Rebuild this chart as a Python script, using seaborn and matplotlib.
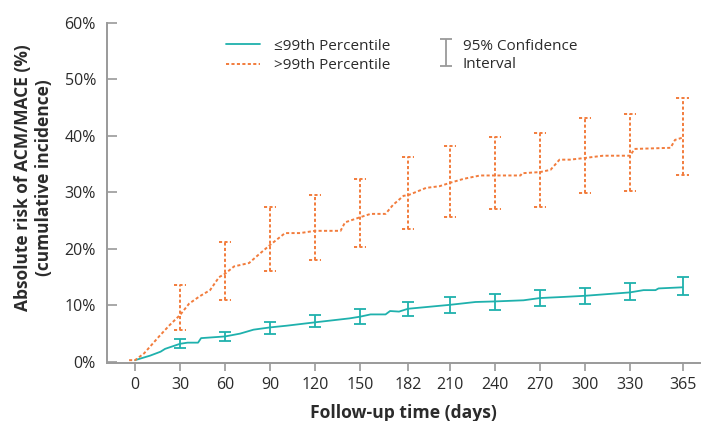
import numpy as np
import pandas as pd
import seaborn as sns
import matplotlib
matplotlib.use("Agg")
import matplotlib.pyplot as plt
from matplotlib.lines import Line2D
from matplotlib.container import ErrorbarContainer
from matplotlib.legend_handler import HandlerErrorbar

# ---- data ----
low_days = [0, 10, 17, 20, 30, 35, 42, 44, 60, 70, 79, 90, 101, 120, 143, 150, 157, 167, 170, 176, 182,
            210, 227, 240, 259, 270, 286, 300, 330, 339, 347, 349, 365]
low_vals = [0.3, 1.1, 1.8, 2.3, 3.2, 3.4, 3.4, 4.2, 4.5, 5.0, 5.7, 6.1, 6.4, 7.0, 7.7, 8.0, 8.4, 8.4, 9.0, 8.9, 9.4,
            10.1, 10.6, 10.7, 10.9, 11.3, 11.5, 11.7, 12.3, 12.7, 12.7, 13.0, 13.2]

high_days = [-4, 0, 6, 16, 23, 30, 36, 43, 50, 56, 60, 66, 76, 82, 90, 100, 110, 120, 137, 140, 150, 157, 167,
             172, 179, 182, 194, 203, 210, 219, 230, 240, 257, 258, 270, 277, 283, 290, 300, 312, 330, 333,
             357, 360, 365]
high_vals = [0.3, 0.3, 1.5, 4.5, 6.5, 8.3, 10.3, 11.6, 12.7, 15.0, 15.6, 16.9, 17.5, 18.9, 20.7, 22.8, 22.8, 23.2,
             23.2, 24.7, 25.6, 26.2, 26.2, 27.8, 29.4, 29.5, 30.8, 31.1, 31.7, 32.4, 33.0, 33.0, 33.0, 33.4, 33.6,
             34.0, 35.8, 35.8, 36.1, 36.5, 36.5, 37.7, 37.9, 39.3, 39.7]

ci_days = [30, 60, 90, 120, 150, 182, 210, 240, 270, 300, 330, 365]
low_mid = [3.2, 4.5, 6.1, 7.0, 8.0, 9.4, 10.1, 10.7, 11.3, 11.7, 12.3, 13.2]
low_lo = [2.4, 3.7, 5.0, 6.1, 6.7, 8.2, 8.7, 9.2, 9.9, 10.3, 11.0, 11.9]
low_hi = [4.0, 5.2, 7.1, 8.3, 9.3, 10.6, 11.4, 12.0, 12.7, 13.0, 13.9, 15.0]
high_mid = [8.3, 15.6, 20.7, 23.2, 25.6, 29.5, 31.7, 33.0, 33.6, 36.1, 36.5, 39.7]
high_lo = [5.6, 11.0, 16.0, 18.0, 20.4, 23.6, 25.6, 27.0, 27.5, 29.9, 30.2, 33.1]
high_hi = [13.6, 21.2, 27.5, 29.6, 32.4, 36.2, 38.2, 39.9, 40.6, 43.2, 43.9, 46.8]

x_ticks = [0, 30, 60, 90, 120, 150, 182, 210, 240, 270, 300, 330, 365]
y_ticks = [0, 10, 20, 30, 40, 50, 60]

TEAL = "#1fb1ad"
ORANGE = "#f27c3c"
GRAY = "#9a9a9a"
TXT = "#2b2b2b"
DOT = (0, (1.6, 1.2))
CAP_HALF = 4.2  # days, half width of the dotted caps

sns.set_theme(style="white")
plt.rcParams["font.family"] = ["Open Sans", "DejaVu Sans"]

fig = plt.figure(figsize=(7.06, 4.21), dpi=100)
ax = fig.add_axes([0.1516, 0.1378, 0.84, 0.8076])

df_low = pd.DataFrame({"day": low_days, "risk": low_vals})
df_high = pd.DataFrame({"day": high_days, "risk": high_vals})
sns.lineplot(data=df_low, x="day", y="risk", ax=ax, color=TEAL, lw=1.3, estimator=None)
sns.lineplot(data=df_high, x="day", y="risk", ax=ax, color=ORANGE, lw=1.4, estimator=None,
             linestyle=DOT)

ml = np.array(low_mid); mh = np.array(high_mid)
ax.errorbar(ci_days, ml, yerr=[ml - np.array(low_lo), np.array(low_hi) - ml], fmt="none",
            ecolor=TEAL, elinewidth=1.3, capsize=4.5, capthick=1.3)
eb2 = ax.errorbar(ci_days, mh, yerr=[mh - np.array(high_lo), np.array(high_hi) - mh], fmt="none",
                  ecolor=ORANGE, elinewidth=1.4, capsize=0)
for c in eb2.lines[2]:
    c.set_linestyle(DOT)
d = np.array(ci_days)
for v in (high_lo, high_hi):
    ax.hlines(v, d - CAP_HALF, d + CAP_HALF, color=ORANGE, lw=1.4, linestyle=DOT)

ax.set_xlim(-18.7, 376.7)
ax.set_ylim(-0.2, 60)
ax.set_xticks(x_ticks)
ax.set_yticks(y_ticks)
ax.set_yticklabels([f"{v}%" for v in y_ticks])
ax.tick_params(axis="x", direction="out", length=6, width=1.2, color=GRAY, labelsize=11.5,
               labelcolor=TXT, pad=4, bottom=True)
ax.tick_params(axis="y", direction="in", length=7, width=1.2, color=GRAY, labelsize=11.5,
               labelcolor=TXT, pad=8, left=True)
for s in ["top", "right"]:
    ax.spines[s].set_visible(False)
for s in ["left", "bottom"]:
    ax.spines[s].set_color(GRAY)
    ax.spines[s].set_linewidth(1.4)

ax.set_xlabel("Follow-up time (days)", fontsize=12.6, fontweight="bold", color=TXT, labelpad=8)
ax.set_ylabel("Absolute risk of ACM/MACE (%)\n(cumulative incidence)", fontsize=12.5,
              fontweight="bold", color=TXT, linespacing=1.25)
ax.yaxis.set_label_coords(-0.091, 0.545)

h1 = Line2D([], [], color=TEAL, lw=1.3)
h2 = Line2D([], [], color=ORANGE, lw=1.4, linestyle=DOT)
leg1 = ax.legend([h1, h2], ["≤99th Percentile", ">99th Percentile"], loc="upper left",
                 bbox_to_anchor=(0.178, 0.994), frameon=False, fontsize=11, handlelength=2.2,
                 labelspacing=0.3, handletextpad=0.9, labelcolor=TXT)
ax.add_artist(leg1)
ebh = ax.errorbar([np.nan], [np.nan], yerr=[np.nan], fmt="none", ecolor=GRAY,
                  elinewidth=1.3, capsize=4.5, capthick=1.3)
leg2 = ax.legend([ebh], ["95% Confidence\nInterval"], loc="upper left", bbox_to_anchor=(0.535, 0.994),
                 frameon=False, fontsize=11, handlelength=1.0, handleheight=2.2,
                 handletextpad=0.6, labelcolor=TXT,
                 handler_map={ErrorbarContainer: HandlerErrorbar(yerr_size=0.88)})
for t in leg2.get_texts():
    t.set_linespacing(1.3)

fig.savefig("out.png", dpi=100)
